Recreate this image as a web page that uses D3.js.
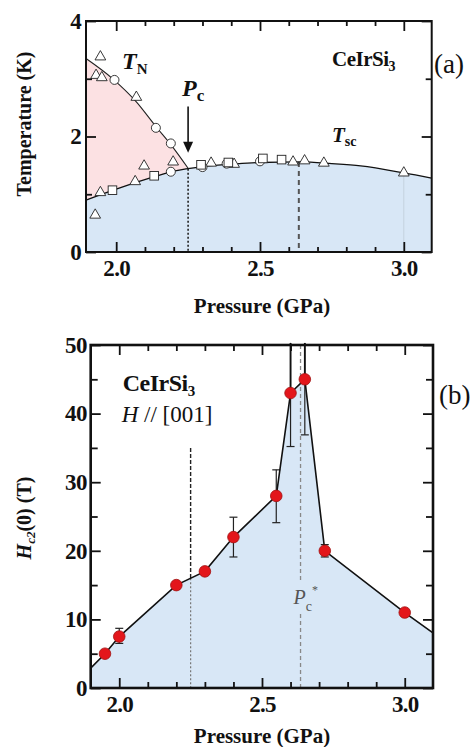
<!DOCTYPE html>
<html>
<head>
<meta charset="utf-8">
<script src="https://cdn.jsdelivr.net/npm/d3@7"></script>
<style>
  body { margin: 0; background: #fff; }
  svg { display: block; }
</style>
</head>
<body>
<svg id="fig" width="471" height="747"></svg>
<script>
// ---------- shared pressure axis ----------
const pressureMajor = [2.0, 2.5, 3.0];
const pressureMajorLabels = ["2.0", "2.5", "3.0"];
const pressureMinor = [2.1, 2.2, 2.3, 2.4, 2.6, 2.7, 2.8, 2.9];

// ---------- panel (a): T-P phase diagram ----------
const tempMajor = [0, 2, 4];
const tempMajorLabels = ["0", "2", "4"];
const tempMinor = [1, 3];

// Néel temperature boundary
const tnP = [1.895, 1.99, 2.07, 2.14, 2.19, 2.25];
const tnT = [3.35, 2.99, 2.60, 2.16, 1.86, 1.45];
// superconducting transition boundary
const tscP = [1.895, 2.0, 2.13, 2.2, 2.3, 2.4, 2.5, 2.64, 2.75, 2.85, 3.0, 3.097];
const tscT = [0.90, 1.09, 1.30, 1.40, 1.48, 1.52, 1.55, 1.56, 1.53, 1.49, 1.37, 1.28];

// measured transitions (open symbols)
const triP = [1.945, 1.93, 1.95, 2.07, 2.198, 2.097, 2.066, 1.945, 1.927, 2.33, 2.41, 2.615, 2.655, 2.722, 3.0];
const triT = [3.38, 3.06, 3.02, 2.68, 1.56, 1.49, 1.22, 1.03, 0.64, 1.54, 1.52, 1.56, 1.58, 1.54, 1.37];
const circP = [1.994, 2.138, 2.19, 2.19, 2.30, 2.384, 2.50];
const circT = [2.98, 2.15, 1.88, 1.39, 1.47, 1.53, 1.57];
const sqP = [1.987, 2.132, 2.295, 2.39, 2.51, 2.575];
const sqT = [1.07, 1.32, 1.51, 1.55, 1.62, 1.60];

const pc = 2.25, pcTsc = 1.44;
const pcStar = 2.635, pcStarTsc = 1.56;
const arrowTop = 2.52, arrowTip = 1.72;

// ---------- panel (b): upper critical field ----------
const fieldMajor = [0, 10, 20, 30, 40, 50];
const fieldMajorLabels = ["0", "10", "20", "30", "40", "50"];
const fieldMinor = [5, 15, 25, 35, 45];

const hc2P = [1.95, 2.0, 2.2, 2.3, 2.4, 2.55, 2.6, 2.65, 2.72, 3.0];
const hc2H = [5, 7.5, 15, 17, 22, 28, 43, 45, 20, 11];
// guide line continues to the frame edges
const hc2EdgeP = [1.9, 3.1];
const hc2EdgeH = [2.9, 8.0];

const errP = [2.0, 2.4, 2.55, 2.6, 2.65, 2.72];
const errLo = [6.5, 19.1, 24.1, 35.2, 36.9, 19.1];
const errHi = [8.7, 24.9, 31.8, 50.3, 50.3, 20.9];

const pcDashTop = 35, pcDashSplit = 16;
const pcStarGapLo = 10.8, pcStarGapHi = 15.7;

// ---------- drawing ----------
const svg = d3.select("#fig");
const FONT = '"Liberation Serif"';

function axes(g, x, y, w, h, o) {
  const style = sel => {
    sel.attr("font-family", null);
    sel.select(".domain").remove();
    sel.selectAll(".tick line").attr("stroke", "#111").attr("stroke-width", 1.8);
    sel.selectAll("text").style("font-family", FONT).attr("font-weight", "bold")
      .attr("font-size", 23).attr("letter-spacing", "-0.7px").attr("fill", "#111");
  };
  // bottom
  g.append("g").attr("transform", `translate(0,${h})`)
    .call(d3.axisBottom(x).tickValues(pressureMajor).tickFormat((d, i) => pressureMajorLabels[i])
      .tickSizeInner(-o.major).tickSizeOuter(0).tickPadding(o.xPad)).call(style);
  g.append("g").attr("transform", `translate(0,${h})`)
    .call(d3.axisBottom(x).tickValues(pressureMinor).tickFormat("").tickSizeInner(-o.minorX).tickSizeOuter(0)).call(style);
  // top
  g.append("g").call(d3.axisTop(x).tickValues(pressureMajor).tickFormat("").tickSizeInner(-o.major).tickSizeOuter(0)).call(style);
  g.append("g").call(d3.axisTop(x).tickValues(pressureMinor).tickFormat("").tickSizeInner(-o.minorX).tickSizeOuter(0)).call(style);
  // left
  g.append("g").call(d3.axisLeft(y).tickValues(o.yMajor).tickFormat((d, i) => o.yLabels[i])
    .tickSizeInner(-o.major).tickSizeOuter(0).tickPadding(o.yPad)).call(style);
  g.append("g").call(d3.axisLeft(y).tickValues(o.yMinor).tickFormat("").tickSizeInner(-o.minorY).tickSizeOuter(0)).call(style);
  // right
  g.append("g").attr("transform", `translate(${w},0)`)
    .call(d3.axisRight(y).tickValues(o.yMajor).tickFormat("").tickSizeInner(-o.major).tickSizeOuter(0)).call(style);
  g.append("g").attr("transform", `translate(${w},0)`)
    .call(d3.axisRight(y).tickValues(o.yMinor).tickFormat("").tickSizeInner(-o.minorY).tickSizeOuter(0)).call(style);
  // frame
  g.append("rect").attr("width", w).attr("height", h)
    .attr("fill", "none").attr("stroke", "#111").attr("stroke-width", o.frame);
}

function label(parent, x, y, parts, size, anchor) {
  const t = parent.append("text").attr("x", x).attr("y", y).attr("font-size", size)
    .style("font-family", FONT)
    .attr("text-anchor", anchor || "start").attr("fill", "#111");
  parts.forEach(p => {
    const s = t.append("tspan").text(p.t).style("font-family", FONT);
    if (p.bold) s.attr("font-weight", "bold");
    if (p.italic) s.attr("font-style", "italic");
    if (p.size) s.attr("font-size", p.size);
    if (p.dy) s.attr("dy", p.dy);
    if (p.ls) s.attr("letter-spacing", p.ls);
  });
  return t;
}

// ===== panel (a) =====
const A = { left: 86, top: 21, right: 431.7, bottom: 252 };
const wa = A.right - A.left, ha = A.bottom - A.top;
const xa = d3.scaleLinear().domain([1.895, 3.097]).range([0, wa]);
const ya = d3.scaleLinear().domain([0, 4]).range([ha, 0]);
const ga = svg.append("g").attr("transform", `translate(${A.left},${A.top})`);

const tnPts = tnP.map((p, i) => [p, tnT[i]]);
const tscPts = tscP.map((p, i) => [p, tscT[i]]);

const areaA = d3.area().x(d => xa(d[0])).y0(ya(0)).y1(d => ya(d[1])).curve(d3.curveMonotoneX);
const lineA = d3.line().x(d => xa(d[0])).y(d => ya(d[1])).curve(d3.curveMonotoneX);

// antiferromagnetic region (pink), then superconducting dome (blue) over it
ga.append("path").datum(tnPts).attr("d", areaA).attr("fill", "#fce1e3");
ga.append("path").datum(tscPts).attr("d", areaA).attr("fill", "#d8e7f6");

// faint guide at 3.0 GPa
ga.append("line").attr("x1", xa(3.0)).attr("x2", xa(3.0)).attr("y1", ya(1.37)).attr("y2", ya(0))
  .attr("stroke", "#c5d2df").attr("stroke-width", 1);

// Pc (dotted) and Pc* (dashed)
ga.append("line").attr("x1", xa(pc)).attr("x2", xa(pc)).attr("y1", ya(pcTsc)).attr("y2", ya(0))
  .attr("stroke", "#222").attr("stroke-width", 1.6).attr("stroke-dasharray", "2,2");
ga.append("line").attr("x1", xa(pcStar)).attr("x2", xa(pcStar)).attr("y1", ya(pcStarTsc)).attr("y2", ya(0))
  .attr("stroke", "#555").attr("stroke-width", 2).attr("stroke-dasharray", "5,4");

ga.append("path").datum(tnPts).attr("d", lineA).attr("fill", "none").attr("stroke", "#222").attr("stroke-width", 1.1);
ga.append("path").datum(tscPts).attr("d", lineA).attr("fill", "none").attr("stroke", "#111").attr("stroke-width", 1.3);

// symbols
const sym = { fill: "#fff", stroke: "#222", sw: 0.9 };
ga.append("g").selectAll("path").data(triP.map((p, i) => [p, triT[i]])).join("path")
  .attr("d", d3.symbol(d3.symbolTriangle, 50)())
  .attr("transform", d => `translate(${xa(d[0])},${ya(d[1])})`)
  .attr("fill", sym.fill).attr("stroke", sym.stroke).attr("stroke-width", sym.sw);
ga.append("g").selectAll("circle").data(circP.map((p, i) => [p, circT[i]])).join("circle")
  .attr("cx", d => xa(d[0])).attr("cy", d => ya(d[1])).attr("r", 4.5)
  .attr("fill", sym.fill).attr("stroke", sym.stroke).attr("stroke-width", sym.sw);
ga.append("g").selectAll("rect").data(sqP.map((p, i) => [p, sqT[i]])).join("rect")
  .attr("x", d => xa(d[0]) - 4.3).attr("y", d => ya(d[1]) - 4.3).attr("width", 8.6).attr("height", 8.6)
  .attr("fill", sym.fill).attr("stroke", sym.stroke).attr("stroke-width", sym.sw);

// arrow marking Pc
ga.append("line").attr("x1", xa(pc)).attr("x2", xa(pc)).attr("y1", ya(arrowTop)).attr("y2", ya(arrowTip) - 9)
  .attr("stroke", "#111").attr("stroke-width", 1.6);
ga.append("path")
  .attr("d", `M${xa(pc) - 5},${ya(arrowTip) - 11} L${xa(pc) + 5},${ya(arrowTip) - 11} L${xa(pc)},${ya(arrowTip)} Z`)
  .attr("fill", "#111");

axes(ga, xa, ya, wa, ha, {
  major: 10, minorX: 5, minorY: 6, xPad: 8, yPad: 5, frame: 2,
  yMajor: tempMajor, yLabels: tempMajorLabels, yMinor: tempMinor
});

// annotations
label(ga, 36, 48, [{ t: "T", bold: true, italic: true }, { t: "N", bold: true, size: 15, dy: 5 }], 24);
label(ga, 96, 75, [{ t: "P", bold: true, italic: true }, { t: "c", bold: true, size: 17, dy: 5 }], 24);
label(ga, 246, 45, [{ t: "CeIrSi", bold: true, ls: "-0.5px" }, { t: "3", bold: true, size: 14, dy: 5 }], 21);
label(ga, 246, 121, [{ t: "T", bold: true, italic: true }, { t: "sc", bold: true, size: 14, dy: 4 }], 21);

label(svg, 434, 73, [{ t: "(a)" }], 27);
label(svg, 0, 0, [{ t: "Temperature (K)", bold: true }], 20, "middle")
  .attr("transform", "translate(31,124) rotate(-90)").attr("x", null).attr("y", null);
label(svg, 262, 313, [{ t: "Pressure (GPa)", bold: true }], 21, "middle");

// ===== panel (b) =====
const B = { left: 90.7, top: 345, right: 433, bottom: 688 };
const wb = B.right - B.left, hb = B.bottom - B.top;
const xb = d3.scaleLinear().domain([1.9, 3.099]).range([0, wb]);
const yb = d3.scaleLinear().domain([0, 50]).range([hb, 0]);
const gb = svg.append("g").attr("transform", `translate(${B.left},${B.top})`);

const hPts = [[hc2EdgeP[0], hc2EdgeH[0]], ...hc2P.map((p, i) => [p, hc2H[i]]), [hc2EdgeP[1], hc2EdgeH[1]]];
gb.append("path").datum(hPts)
  .attr("d", d3.area().x(d => xb(d[0])).y0(yb(0)).y1(d => yb(d[1])))
  .attr("fill", "#d8e7f6");

// Pc guide: dashed above the curve, dotted below
gb.append("line").attr("x1", xb(pc)).attr("x2", xb(pc)).attr("y1", yb(pcDashTop)).attr("y2", yb(pcDashSplit))
  .attr("stroke", "#222").attr("stroke-width", 1.4).attr("stroke-dasharray", "4,2");
gb.append("line").attr("x1", xb(pc)).attr("x2", xb(pc)).attr("y1", yb(pcDashSplit)).attr("y2", yb(0))
  .attr("stroke", "#777").attr("stroke-width", 1.2).attr("stroke-dasharray", "2,2");
// Pc* guide, broken around its label
gb.append("line").attr("x1", xb(pcStar)).attr("x2", xb(pcStar)).attr("y1", yb(50)).attr("y2", yb(pcStarGapHi))
  .attr("stroke", "#888").attr("stroke-width", 1.3).attr("stroke-dasharray", "4,3");
gb.append("line").attr("x1", xb(pcStar)).attr("x2", xb(pcStar)).attr("y1", yb(pcStarGapLo)).attr("y2", yb(0))
  .attr("stroke", "#888").attr("stroke-width", 1.3).attr("stroke-dasharray", "4,3");

// error bars
const eb = gb.append("g").attr("stroke", "#222").attr("stroke-width", 1.2);
errP.forEach((p, i) => {
  eb.append("line").attr("x1", xb(p)).attr("x2", xb(p)).attr("y1", yb(errLo[i])).attr("y2", yb(errHi[i]));
  eb.append("line").attr("x1", xb(p) - 4).attr("x2", xb(p) + 4).attr("y1", yb(errLo[i])).attr("y2", yb(errLo[i]));
  if (errHi[i] < 50) {
    eb.append("line").attr("x1", xb(p) - 4).attr("x2", xb(p) + 4).attr("y1", yb(errHi[i])).attr("y2", yb(errHi[i]));
  }
});
// upper portions of the open-ended bars are heavier
errP.forEach((p, i) => {
  if (errHi[i] >= 50) {
    gb.append("line").attr("x1", xb(p)).attr("x2", xb(p)).attr("y1", yb(hc2H[hc2P.indexOf(p)])).attr("y2", yb(errHi[i]))
      .attr("stroke", "#111").attr("stroke-width", 1.8);
  }
});

gb.append("path").datum(hPts)
  .attr("d", d3.line().x(d => xb(d[0])).y(d => yb(d[1])))
  .attr("fill", "none").attr("stroke", "#111").attr("stroke-width", 1.6);

gb.append("g").selectAll("circle").data(hc2P.map((p, i) => [p, hc2H[i]])).join("circle")
  .attr("cx", d => xb(d[0])).attr("cy", d => yb(d[1])).attr("r", 5.8)
  .attr("fill", "#e3161b").attr("stroke", "#a01010").attr("stroke-width", 0.8);

axes(gb, xb, yb, wb, hb, {
  major: 10, minorX: 6, minorY: 7, xPad: 8, yPad: 4, frame: 2.6,
  yMajor: fieldMajor, yLabels: fieldMajorLabels, yMinor: fieldMinor
});

label(gb, 32, 46, [{ t: "CeIrSi", bold: true, ls: "-0.5px" }, { t: "3", bold: true, size: 15, dy: 5 }], 24);
label(gb, 31, 77, [{ t: "H", italic: true }, { t: " // [001]" }], 23);
label(gb, xb(pcStar) - 7, yb(12.3), [{ t: "P", italic: true }, { t: "c", size: 14, dy: 7 }, { t: "*", size: 12, dy: -17 }], 20)
  .attr("fill", "#555");

label(svg, 439, 404, [{ t: "(b)" }], 27);
label(svg, 0, 0, [{ t: "H", bold: true, italic: true }, { t: "c2", bold: true, italic: true, size: 13, dy: 4 },
  { t: "(0)  (T)", bold: true, dy: -4 }], 20, "middle")
  .attr("transform", "translate(31,518) rotate(-90)").attr("x", null).attr("y", null);
label(svg, 262, 743, [{ t: "Pressure (GPa)", bold: true }], 21, "middle");
</script>
</body>
</html>
